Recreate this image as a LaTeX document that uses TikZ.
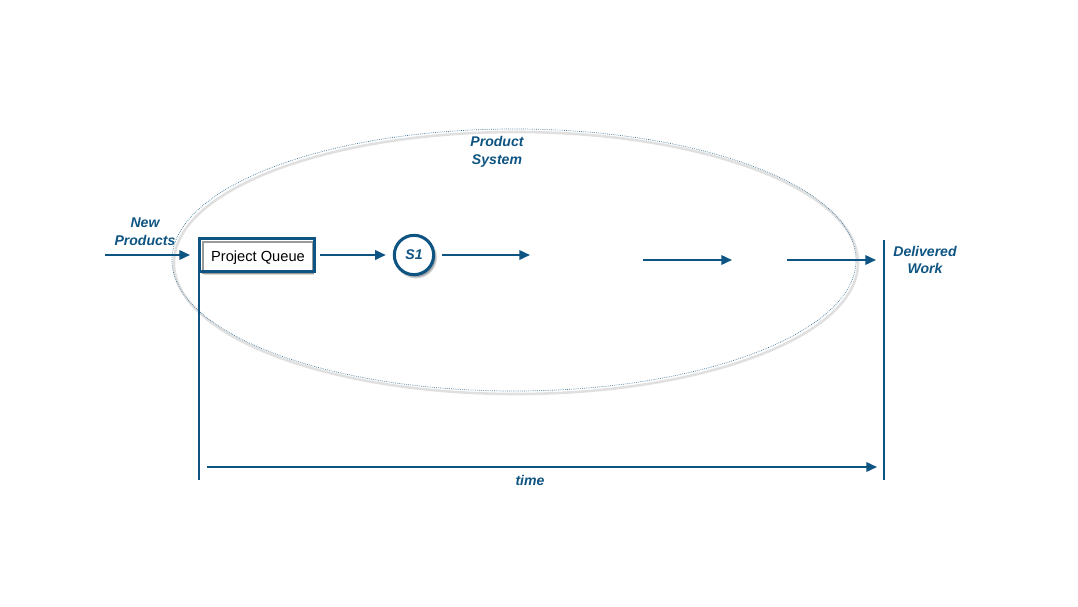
\documentclass[tikz,border=0pt]{standalone}
\usepackage{fontspec}
\setmainfont{Liberation Sans}
\usetikzlibrary{arrows.meta, positioning, shapes.geometric, shadows}
\definecolor{flowblue}{HTML}{0E5482}
\tikzset{
  lbl/.style={font=\fontsize{12}{15.3}\selectfont\bfseries\itshape,
              text=flowblue, align=center},
  flow/.style={-{Triangle[length=9pt, width=8pt]}, line width=1.7pt, draw=flowblue},
  bound/.style={line width=1.7pt, draw=flowblue},
  queue/.style={rectangle, draw=black!40, line width=1.1pt, fill=white,
                minimum width=3.3cm, minimum height=0.93cm,
                font=\fontsize{12.5}{14}\selectfont,
                drop shadow={shadow xshift=1pt, shadow yshift=-1.5pt, fill=black!30}},
  qframe/.style={draw=flowblue, line width=2pt},
  stage/.style={circle, draw=flowblue, line width=2.6pt, minimum size=1.18cm, fill=white,
                font=\fontsize{12}{14}\selectfont\bfseries\itshape, text=flowblue,
                circular drop shadow={shadow xshift=1.2pt, shadow yshift=-1.6pt,
                                      fill=black!40}},
  sysring/.style={ellipse, draw=flowblue!80, densely dotted, line width=0.6pt,
                  minimum width=20.52cm, minimum height=7.86cm},
  ringshadow/.style={ellipse, draw=black!12, line width=2.2pt,
                     minimum width=20.52cm, minimum height=7.86cm},
}
\begin{document}
\begin{tikzpicture}[x=0.03cm, y=-0.03cm]
  \useasboundingbox (0,0) rectangle (1078,606);
  % product system boundary
  \node[ringshadow] (sysshade) at (516,263) {};
  \node[sysring] (sys) at (514,260) {};
  \node[lbl] (syslbl) at (497,152) {Product\\System};
  % queue and first stage
  \node[queue] (queue) at (258,257.5) {Project Queue};
  \coordinate (qnw) at ([shift={(-3,-3)}]queue.north west);
  \coordinate (qse) at ([shift={(1,-2)}]queue.south east);
  \draw[qframe] (qnw) rectangle (qse);
  \node[stage] (s1) at (414,255) {S1};
  % free ends
  \coordinate (src) at (105,255);
  \coordinate (srcend) at (190,255);
  \coordinate (s1out) at (530,255);
  \coordinate (midA) at (643,260);
  \coordinate (midB) at (732,260);
  \coordinate (lastA) at (787,260);
  \coordinate (lastB) at (876,260);
  \coordinate (startbot) at (200,480);
  \coordinate (endtop) at (884,240);
  \coordinate (endbot) at (884,480);
  \coordinate (tA) at (207,467);
  \coordinate (tB) at (877,467);
  % flow
  \draw[flow] (src) -- (srcend);
  \draw[flow, shorten <=5pt, shorten >=6pt] (queue.east |- s1.west) -- (s1.west);
  \draw[flow, shorten <=6pt] (s1.east) -- (s1.east -| s1out);
  \draw[flow] (midA) -- (midB);
  \draw[flow] (lastA) -- (lastB);
  % time window
  \draw[bound] (qnw) -- (qnw |- startbot);
  \draw[bound] (endtop) -- (endbot);
  \draw[flow] (tA) -- (tB);
  % labels
  \node[lbl] (newlbl) at (145,232) {New\\Products};
  \node[lbl] (donelbl) at (925,260) {Delivered\\Work};
  \node[lbl] (timelbl) at (530,480) {time};
\end{tikzpicture}
\end{document}
